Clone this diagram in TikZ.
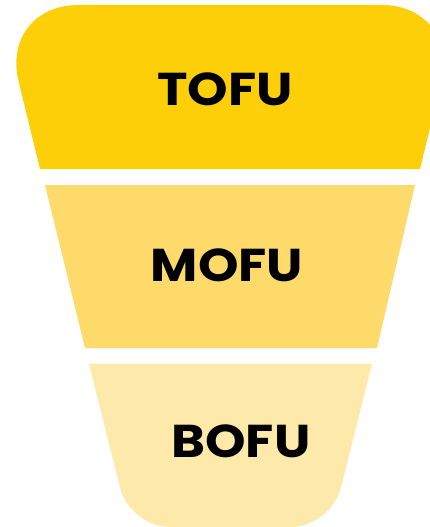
\documentclass[tikz,border=0pt]{standalone}
\usepackage{fontspec}
\setmainfont{Poppins}[BoldFont={* Bold}, FakeStretch=1.12]
\definecolor{tofucol}{RGB}{252,207,8}
\definecolor{mofucol}{RGB}{253,218,106}
\definecolor{bofucol}{RGB}{253,233,170}
\tikzset{
  stagelabel/.style={font=\bfseries\fontsize{46}{46}\selectfont, text=black, inner sep=0pt, anchor=center}
}
\begin{document}
\begin{tikzpicture}[x=1pt,y=-1pt]
  \useasboundingbox (0,0) rectangle (430,527);
  \clip (0,0) rectangle (430,527);
  % top stage: wide lid with rounded upper corners
  \fill[tofucol] (40,169) [rounded corners=78pt] -- (0,5) -- (460,5) [sharp corners] -- (420,169) -- cycle;
  % middle stage
  \fill[mofucol] (45,185) -- (415,185) -- (377,348) -- (85,348) -- cycle;
  % bottom stage with rounded lower corners
  \fill[bofucol] (372,364) [rounded corners=40pt] -- (331,527) -- (130,527) [sharp corners] -- (89,364) -- cycle;
  \node[stagelabel] (tofu) at (225,89) {TOFU};
  \node[stagelabel] (mofu) at (227,265) {MOFU};
  \node[stagelabel] (bofu) at (241,441) {BOFU};
\end{tikzpicture}
\end{document}
